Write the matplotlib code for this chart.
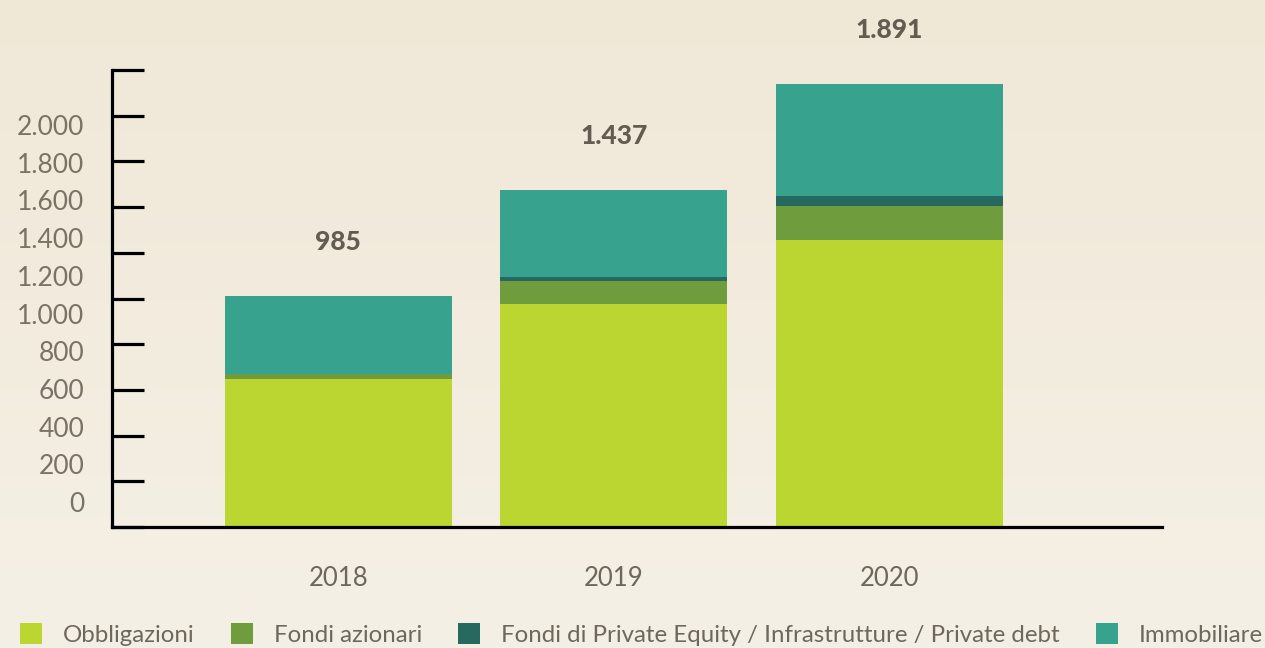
import numpy as np
import matplotlib.pyplot as plt
from matplotlib.patches import Patch

years = ['2018', '2019', '2020']
obbligazioni = [631, 953, 1223]
fondi_azionari = [21, 97, 146]
private_equity = [0, 17, 43]
immobiliare = [333, 370, 479]
totals = ['985', '1.437', '1.891']
tick_labels = ['0', '200', '400', '600', '800', '1.000', '1.200', '1.400', '1.600', '1.800', '2.000']

series = [
    ('Obbligazioni', obbligazioni, '#bcd631'),
    ('Fondi azionari', fondi_azionari, '#6f9d3d'),
    ('Fondi di Private Equity / Infrastrutture / Private debt', private_equity, '#27695e'),
    ('Immobiliare', immobiliare, '#37a38f'),
]

plt.rcParams['font.family'] = ['Lato', 'DejaVu Sans']

fig = plt.figure(figsize=(12.65, 6.48), dpi=100)

# soft beige gradient background
bg = fig.add_axes([0, 0, 1, 1], zorder=-10)
grad = np.linspace(0, 1, 256).reshape(-1, 1)
bg.imshow(grad, aspect='auto', cmap=plt.matplotlib.colors.LinearSegmentedColormap.from_list(
    'bg', ['#f0e8d7', '#f5f0e6']), extent=[0, 1, 0, 1])
bg.axis('off')

ax = fig.add_axes([0.0885, 0.1867, 0.8300, 0.7052])
ax.patch.set_alpha(0)

x = np.arange(len(years))
bottom = np.zeros(len(years))
for name, vals, col in series:
    ax.bar(x, vals, bottom=bottom, width=0.824, color=col, label=name)
    bottom += np.array(vals)

ymax = 1949
ax.set_ylim(0, ymax)
ax.set_xlim(-0.822, 2.989)

for xi, tot, lab in zip(x, bottom, totals):
    ax.annotate(lab, (xi, tot), xytext=(0, 30), textcoords='offset points',
                ha='center', va='bottom', fontsize=19, fontweight='black', color='#635c50')

ax.spines['top'].set_visible(False)
ax.spines['right'].set_visible(False)
ax.spines['left'].set_linewidth(2.3)
ax.spines['bottom'].set_linewidth(2.3)
ax.set_yticks(np.linspace(0, ymax, 11))
ax.tick_params(axis='y', direction='in', length=23, width=2.3, labelleft=False)
ax.set_xticks(x)
ax.set_xticklabels(years)
ax.tick_params(axis='x', length=0, pad=28, labelsize=18.5, labelcolor='#6e675b')

# y labels sit on their own scale, slightly compressed relative to the ticks
ax2 = ax.twinx()
ax2.set_ylim(-133, 2292)
ax2.set_yticks(np.arange(0, 2001, 200))
ax2.set_yticklabels(tick_labels)
ax2.yaxis.tick_left()
ax2.tick_params(axis='y', length=0, pad=20, labelsize=19, labelcolor='#7a7265')
for s in ax2.spines.values():
    s.set_visible(False)

handles = [Patch(facecolor=c, edgecolor='none') for _, _, c in series]
leg = fig.legend(handles, [n for n, _, _ in series], loc='lower left', ncol=4,
                 bbox_to_anchor=(-0.001, -0.03), frameon=False, fontsize=17.3,
                 handlelength=0.92, handleheight=0.92, handletextpad=0.87, columnspacing=1.5,
                 labelcolor='#6e675b')

fig.savefig('out.png', dpi=100)
